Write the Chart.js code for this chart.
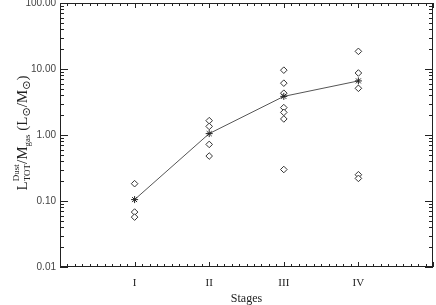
<!DOCTYPE html>
<html lang="en">
<head>
    <meta charset="UTF-8">
    <title>Dust luminosity per gas mass by stage</title>
    <style>
        body {
            margin: 0;
            padding: 0;
            background-color: #ffffff;
        }

        .chart-container {
            width: 436px;
            height: 305px;
        }
    </style>
    <script src="https://cdn.jsdelivr.net/npm/chart.js"></script>
</head>
<body>
    <div class="chart-container">
        <canvas id="stageChart"></canvas>
    </div>

    <script>
        // stage labels and their x positions
        const stageNames = ['I', 'II', 'III', 'IV'];
        const stagePositions = [1, 2, 3, 4];

        // individual objects per stage (L_TOT^Dust / M_gas)
        const stageI = [0.183, 0.068, 0.057];
        const stageII = [1.65, 1.35, 0.72, 0.48];
        const stageIII = [9.6, 6.1, 4.3, 2.6, 2.2, 1.75, 0.30];
        const stageIV = [18.5, 8.7, 5.1, 0.25, 0.22];

        // mean per stage
        const stageMeans = [0.105, 1.05, 3.85, 6.6];

        const yTickValues = [0.01, 0.1, 1, 10, 100];

        const stageValues = [stageI, stageII, stageIII, stageIV];
        const objectPoints = [];
        stageValues.forEach((vals, i) => {
            vals.forEach(v => objectPoints.push({ x: stagePositions[i], y: v }));
        });
        const meanPoints = stageMeans.map((v, i) => ({ x: stagePositions[i], y: v }));

        const axisColor = '#222222';

        // box with inward ticks on all four sides, and the y axis title
        const frameTicks = {
            id: 'frameTicks',
            afterDraw(chart) {
                const ctx = chart.ctx;
                const area = chart.chartArea;
                const xs = chart.scales.x;
                const ys = chart.scales.y;

                ctx.save();
                ctx.strokeStyle = axisColor;
                ctx.lineWidth = 1;
                ctx.strokeRect(area.left + 0.5, area.top + 0.5, area.right - area.left - 1, area.bottom - area.top - 1);

                ctx.beginPath();
                // x ticks, bottom and top
                for (let i = 0; i <= 50; i++) {
                    const v = i / 10;
                    const px = Math.round(xs.getPixelForValue(v)) + 0.5;
                    const len = (i % 10 === 0) ? 5 : 3;
                    ctx.moveTo(px, area.bottom);
                    ctx.lineTo(px, area.bottom - len);
                    ctx.moveTo(px, area.top);
                    ctx.lineTo(px, area.top + len);
                }
                // y ticks, left and right
                for (let e = -2; e <= 2; e++) {
                    for (let m = 1; m <= 9; m++) {
                        const v = m * Math.pow(10, e);
                        if (v > 100) break;
                        const py = Math.round(ys.getPixelForValue(v)) + 0.5;
                        const len = (m === 1) ? 8 : 4;
                        ctx.moveTo(area.left, py);
                        ctx.lineTo(area.left + len, py);
                        ctx.moveTo(area.right, py);
                        ctx.lineTo(area.right - len, py);
                    }
                }
                ctx.stroke();

                // y title: L_TOT^Dust / M_gas (L_sun / M_sun)
                const big = "15px 'Liberation Serif', serif";
                const small = "9px 'Liberation Serif', serif";
                const parts = [
                    { t: 'L', f: big, dy: 0 },
                    { t: 'Dust', f: small, dy: -8, stackWith: 'TOT' },
                    { t: '/M', f: big, dy: 0 },
                    { t: 'gas', f: small, dy: 3 },
                    { t: ' (L', f: big, dy: 0 },
                    { t: '\u2299', f: "11px 'DejaVu Sans', sans-serif", dy: 3 },
                    { t: '/M', f: big, dy: 0 },
                    { t: '\u2299', f: "11px 'DejaVu Sans', sans-serif", dy: 3 },
                    { t: ')', f: big, dy: 0 }
                ];
                let total = 0;
                parts.forEach(p => {
                    ctx.font = p.f;
                    let w = ctx.measureText(p.t).width;
                    if (p.stackWith) w = Math.max(w, ctx.measureText(p.stackWith).width);
                    p.w = w;
                    total += w;
                });
                ctx.fillStyle = '#222222';
                ctx.translate(27, 133);
                ctx.rotate(-Math.PI / 2);
                ctx.textBaseline = 'alphabetic';
                let cx = -total / 2;
                parts.forEach(p => {
                    ctx.font = p.f;
                    ctx.fillText(p.t, cx, p.dy);
                    if (p.stackWith) ctx.fillText(p.stackWith, cx, 3);
                    cx += p.w;
                });
                ctx.restore();
            }
        };

        const ctx = document.getElementById('stageChart').getContext('2d');

        new Chart(ctx, {
            type: 'scatter',
            data: {
                datasets: [
                    {
                        label: 'Mean',
                        data: meanPoints,
                        showLine: true,
                        borderColor: '#555555',
                        borderWidth: 1,
                        pointStyle: 'star',
                        pointRadius: 3.5,
                        pointBorderColor: '#222222',
                        pointBorderWidth: 1,
                        pointBackgroundColor: '#222222'
                    },
                    {
                        label: 'Objects',
                        data: objectPoints,
                        showLine: false,
                        pointStyle: 'rectRot',
                        pointRadius: 3.3,
                        pointBorderColor: '#333333',
                        pointBorderWidth: 1,
                        pointBackgroundColor: '#ffffff'
                    }
                ]
            },
            options: {
                responsive: true,
                maintainAspectRatio: false,
                animation: false,
                layout: {
                    autoPadding: false,
                    padding: { left: 0, right: 3, top: 3, bottom: 0 }
                },
                scales: {
                    x: {
                        type: 'linear',
                        min: 0,
                        max: 5,
                        afterBuildTicks: scale => {
                            scale.ticks = stagePositions.map(v => ({ value: v }));
                        },
                        afterFit: scale => {
                            scale.height = 38;
                            scale.paddingLeft = 0;
                            scale.paddingRight = 0;
                        },
                        grid: { display: false, drawTicks: false },
                        border: { display: false },
                        ticks: {
                            padding: 10,
                            color: '#222222',
                            font: { family: "'Liberation Serif', serif", size: 11 },
                            callback: value => stageNames[stagePositions.indexOf(value)] || ''
                        },
                        title: {
                            display: true,
                            text: 'Stages',
                            color: '#222222',
                            padding: { top: 0, bottom: -1 },
                            font: { family: "'Liberation Serif', serif", size: 12 }
                        }
                    },
                    y: {
                        type: 'logarithmic',
                        min: 0.01,
                        max: 100,
                        afterBuildTicks: scale => {
                            scale.ticks = yTickValues.map(v => ({ value: v }));
                        },
                        afterFit: scale => {
                            scale.width = 60;
                            scale.paddingTop = 0;
                            scale.paddingBottom = 0;
                        },
                        grid: { display: false, drawTicks: false },
                        border: { display: false },
                        ticks: {
                            padding: 4,
                            color: '#444444',
                            font: { family: "'Liberation Sans', sans-serif", size: 10 },
                            callback: value => Number(value).toFixed(2)
                        }
                    }
                },
                plugins: {
                    legend: { display: false },
                    tooltip: { enabled: false }
                }
            },
            plugins: [frameTicks]
        });
    </script>
</body>
</html>
